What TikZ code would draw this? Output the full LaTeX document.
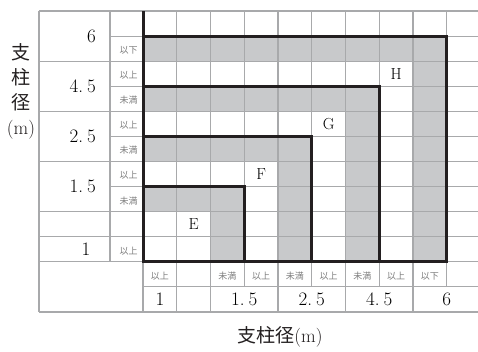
\documentclass[tikz,border=0pt]{standalone}
\usepackage{fontspec}
\newfontfamily\jp{Noto Sans CJK JP}
\definecolor{gridgray}{RGB}{168,169,171}
\definecolor{shadegray}{RGB}{200,201,203}
\definecolor{ink}{RGB}{35,31,32}
\definecolor{labgray}{RGB}{125,125,125}
\newcommand{\GX}[1]{(143+33.75*(#1))}
\newcommand{\GY}[1]{(11+25.08*(#1))}
\newcommand{\dnum}[2]{#1.\kern4pt#2}
\tikzset{
  thingrid/.style={draw=gridgray, line width=1.1pt},
  thickframe/.style={draw=ink, line width=3pt, line join=miter},
  shaded/.style={fill=shadegray},
  num/.style={font=\fontsize{19}{19}\selectfont, inner sep=0pt},
  smalllab/.style={font=\jp\fontsize{9}{9}\selectfont, text=labgray, inner sep=0pt},
  letter/.style={font=\fontsize{16}{16}\selectfont, inner sep=0pt},
  axislab/.style={font=\fontsize{19}{25}\selectfont, text=ink, inner sep=0pt},
}
\begin{document}
\begin{tikzpicture}[x=1pt,y=-1pt]
\useasboundingbox (0,0) rectangle (478,351);
\fill[white] (0,0) rectangle (478,351);
% shading
\foreach \j/\i in {1/9, 3/7, 5/5, 7/3} {
  \fill[shaded] ({\GX{0}},{\GY{\j}}) rectangle ({\GX{\i}},{\GY{\j+1}});
  \fill[shaded] ({\GX{\i-1}},{\GY{\j}}) rectangle ({\GX{\i}},{\GY{10}});
}
% gray grid
\foreach \j in {0,...,11} \draw[thingrid] ({\GX{0}},{\GY{\j}}) -- (478,{\GY{\j}});
\foreach \j in {0,...,10} \draw[thingrid] (110,{\GY{\j}}) -- ({\GX{0}},{\GY{\j}});
\foreach \j in {0,2,4,6,8,9,10} \draw[thingrid] (39,{\GY{\j}}) -- (110,{\GY{\j}});
\draw[thingrid] (39,{\GY{12}}) -- (478,{\GY{12}});
\draw[thingrid] (39,{\GY{0}}) -- (39,{\GY{12}});
\draw[thingrid] (110,{\GY{0}}) -- (110,{\GY{10}});
\draw[thingrid] ({\GX{0}},{\GY{10}}) -- ({\GX{0}},{\GY{12}});
\foreach \i in {1,...,9} \draw[thingrid] ({\GX{\i}},{\GY{0}}) -- ({\GX{\i}},{\GY{11}});
\foreach \i in {1,2,4,6,8} \draw[thingrid] ({\GX{\i}},{\GY{11}}) -- ({\GX{\i}},{\GY{12}});
% thick frames
\draw[thickframe] ({\GX{0}},{\GY{0}}) -- ({\GX{0}},{\GY{10}}) -- ({\GX{9}},{\GY{10}});
\foreach \j/\i in {1/9, 3/7, 5/5, 7/3}
  \draw[thickframe, line cap=rect] ({\GX{0}},{\GY{\j}}) -- ({\GX{\i}},{\GY{\j}}) -- ({\GX{\i}},{\GY{10}});
% left numbers
\node[num, anchor=east] (l6)  at (96,{\GY{1}}) {6};
\node[num, anchor=east] (l45) at (96,{\GY{3}}) {\dnum{4}{5}};
\node[num, anchor=east] (l25) at (96,{\GY{5}}) {\dnum{2}{5}};
\node[num, anchor=east] (l15) at (96,{\GY{7}}) {\dnum{1}{5}};
\node[num] (l1) at (86,{\GY{9.5}}) {1};
% left small labels
\node[smalllab] (s1) at (128.5,{\GY{1.5}+1.5}) {以下};
\node[smalllab] (s2) at (128.5,{\GY{2.5}+1.5}) {以上};
\node[smalllab] (s3) at (128.5,{\GY{3.5}+1.5}) {未満};
\node[smalllab] (s4) at (128.5,{\GY{4.5}+1.5}) {以上};
\node[smalllab] (s5) at (128.5,{\GY{5.5}+1.5}) {未満};
\node[smalllab] (s6) at (128.5,{\GY{6.5}+1.5}) {以上};
\node[smalllab] (s7) at (128.5,{\GY{7.5}+1.5}) {未満};
\node[smalllab] (s9) at (128.5,{\GY{9.5}+1.5}) {以上};
% bottom small labels
\node[smalllab] (b0) at ({\GX{0.5}},{\GY{10.5}+2}) {以上};
\node[smalllab] (b2) at ({\GX{2.5}},{\GY{10.5}+2}) {未満};
\node[smalllab] (b3) at ({\GX{3.5}},{\GY{10.5}+2}) {以上};
\node[smalllab] (b4) at ({\GX{4.5}},{\GY{10.5}+2}) {未満};
\node[smalllab] (b5) at ({\GX{5.5}},{\GY{10.5}+2}) {以上};
\node[smalllab] (b6) at ({\GX{6.5}},{\GY{10.5}+2}) {未満};
\node[smalllab] (b7) at ({\GX{7.5}},{\GY{10.5}+2}) {以上};
\node[smalllab] (b8) at ({\GX{8.5}},{\GY{10.5}+2}) {以下};
% bottom numbers
\node[num] (x1)  at ({\GX{0.5}},{\GY{11.5}}) {1};
\node[num] (x15) at ({\GX{3}},{\GY{11.5}}) {\dnum{1}{5}};
\node[num] (x25) at ({\GX{5}},{\GY{11.5}}) {\dnum{2}{5}};
\node[num] (x45) at ({\GX{7}},{\GY{11.5}}) {\dnum{4}{5}};
\node[num] (x6)  at ({\GX{9}},{\GY{11.5}}) {6};
% letters
\node[letter] (E) at ({\GX{1.5}},{\GY{8.5}}) {E};
\node[letter] (F) at ({\GX{3.5}},{\GY{6.5}}) {F};
\node[letter] (G) at ({\GX{5.5}},{\GY{4.5}}) {G};
\node[letter] (H) at ({\GX{7.5}},{\GY{2.5}}) {H};
% axis labels
\node[axislab, align=center] (ylab) at (21,91) {{\jp 支}\\{\jp 柱}\\{\jp 径}\\(m)};
\node[axislab] (xlab) at (280,337) {{\jp 支柱径}(m)};
\end{tikzpicture}
\end{document}
